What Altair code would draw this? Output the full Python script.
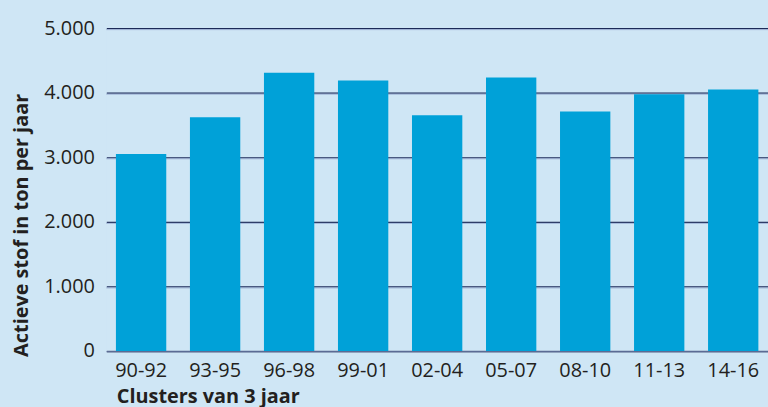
import altair as alt
import pandas as pd

clusters = ["90-92", "93-95", "96-98", "99-01", "02-04", "05-07", "08-10", "11-13", "14-16"]
values = [3050, 3620, 4310, 4190, 3650, 4235, 3710, 3975, 4050]
grid_values = [1000, 2000, 3000, 4000, 5000]

df = pd.DataFrame({"cluster": clusters, "value": values})
gdf = pd.DataFrame({"value": grid_values})

FONT = "Open Sans"
TEXT = "#231f20"

yscale = alt.Scale(domain=[0, 5000], nice=False)

yaxis = alt.Axis(
    title="Actieve stof in ton per jaar",
    titleFont=FONT,
    titleFontSize=20,
    titleFontWeight="bold",
    titleColor=TEXT,
    titleAngle=270,
    titleX=-85,
    titleY=198,
    titleAlign="center",
    titleBaseline="middle",
    values=[0, 1000, 2000, 3000, 4000, 5000],
    labelExpr="replace(format(datum.value, ',d'), ',', '.')",
    labelFont=FONT,
    labelFontSize=20,
    labelColor=TEXT,
    labelPadding=12,
    ticks=False,
    tickSize=0,
    domain=False,
    grid=True,
    gridColor="#1c2a58",
    gridWidth=1.3,
)

shadow = alt.Chart(gdf).mark_rule(color="#9fb3d6", strokeWidth=1, yOffset=1.5).encode(
    y=alt.Y("value:Q", scale=yscale, axis=yaxis),
    x=alt.value(0),
    x2=alt.value(666),
)

bars = alt.Chart(df).mark_bar(color="#00a1d8").encode(
    x=alt.X(
        "cluster:N",
        sort=clusters,
        scale=alt.Scale(paddingInner=0.32, paddingOuter=0.13),
        axis=alt.Axis(
            title="Clusters van 3 jaar",
            titleFont=FONT,
            titleFontSize=20,
            titleFontWeight="bold",
            titleColor=TEXT,
            titleAnchor="start",
            titleAlign="left",
            titleX=10,
            titleY=52,
            titleBaseline="alphabetic",
            labelFont=FONT,
            labelFontSize=20,
            labelColor=TEXT,
            labelAngle=0,
            labelPadding=10,
            ticks=False,
            tickSize=0,
            domainColor="#5b6b94",
            domainWidth=1.5,
            grid=False,
        ),
    ),
    y=alt.Y("value:Q", scale=yscale, axis=yaxis),
)

chart = alt.layer(shadow, bars).properties(
    width=666,
    height=325,
    autosize=alt.AutoSizeParams(type="none"),
    padding={"left": 107, "top": 27, "right": 0, "bottom": 55},
    background="#cfe6f5",
).configure_view(stroke=None, fill="#cfe6f5")

chart.save("out.html", embed_options={"renderer": "svg", "actions": False})
